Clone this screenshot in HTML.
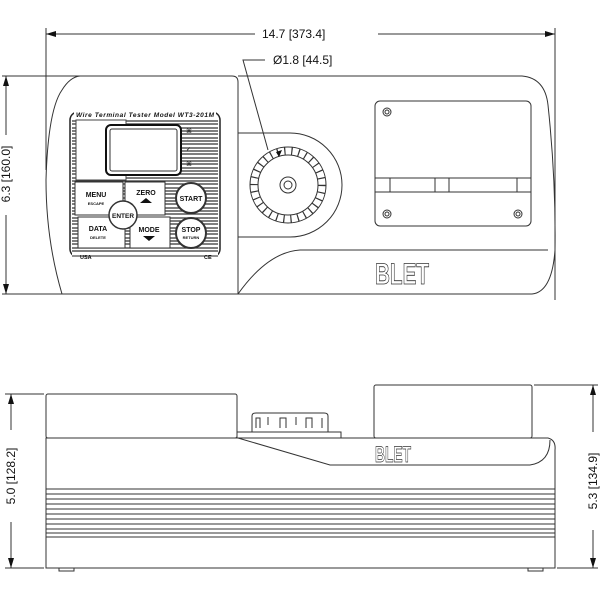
<!DOCTYPE html>
<html><head><meta charset="utf-8"><style>
html,body{margin:0;padding:0;background:#fff}
svg{display:block}
text{font-family:"Liberation Sans",Arial,sans-serif;fill:#111}
</style></head><body>
<svg width="600" height="600" viewBox="0 0 600 600" xmlns="http://www.w3.org/2000/svg">
<defs>
<marker id="ar" markerWidth="10" markerHeight="6" refX="10" refY="3" orient="auto" markerUnits="userSpaceOnUse">
<path d="M0,0 L10,3 L0,6 Z" fill="#111"/></marker>
</defs>
<g fill="none" stroke="#333" stroke-width="1">
<line x1="46" y1="28" x2="46" y2="170"/>
<line x1="555" y1="28" x2="555" y2="300"/>
<line x1="255" y1="34" x2="46" y2="34" marker-end="url(#ar)"/>
<line x1="378" y1="34" x2="555" y2="34" marker-end="url(#ar)"/>
<line x1="2" y1="76" x2="80" y2="76"/>
<line x1="2" y1="294" x2="70" y2="294"/>
<line x1="6" y1="135" x2="6" y2="76" marker-end="url(#ar)"/>
<line x1="6" y1="215" x2="6" y2="294" marker-end="url(#ar)"/>
<polyline points="265,60 243,60 268,150" />
<path d="M80,76 L232,76 Q238,76 238,82 L238,294 L62,294 Q46,240 46,180 Q48,110 62,90 Q70,77 80,76 Z"/>
<path d="M238,76 L522,76 Q545,78 548,105 Q556,180 555,250 Q552,292 532,294 L238,294"/>
<path d="M300,250 L548,250"/>
<path d="M300,250 Q268,252 238,294"/>
<path d="M238,133 L290,133 A52,52 0 0 1 290,237 L238,237"/>
<circle cx="288" cy="185" r="38"/>
<circle cx="288" cy="185" r="34" stroke-width="8" stroke-dasharray="1.2 5.9"/>
<circle cx="288" cy="185" r="30"/>
<circle cx="288" cy="185" r="8"/>
<circle cx="288" cy="185" r="4"/>
<rect x="375" y="101" width="156" height="125" rx="5"/>
<line x1="375" y1="178" x2="531" y2="178"/>
<line x1="375" y1="192" x2="531" y2="192"/>
<line x1="390" y1="178" x2="390" y2="192"/>
<line x1="435" y1="178" x2="435" y2="192"/>
<line x1="449" y1="178" x2="449" y2="192"/>
<line x1="517" y1="178" x2="517" y2="192"/>
<circle cx="387" cy="112" r="4"/><circle cx="387" cy="112" r="2"/>
<circle cx="387" cy="214" r="4"/><circle cx="387" cy="214" r="2"/>
<circle cx="518" cy="214" r="4"/><circle cx="518" cy="214" r="2"/>
</g>
<path d="M276,152 L282,150 L279,157 Z" fill="#111"/>
<g fill="none" stroke="#222">
<rect x="70" y="112" width="150" height="145" rx="8" stroke-width="1.5"/>
</g>
<g stroke="#333" stroke-width="1.2">
<line x1="72" y1="121" x2="218" y2="121"/><line x1="72" y1="124" x2="218" y2="124"/><line x1="72" y1="128" x2="218" y2="128"/><line x1="72" y1="131" x2="218" y2="131"/><line x1="72" y1="134" x2="218" y2="134"/><line x1="72" y1="138" x2="218" y2="138"/><line x1="72" y1="141" x2="218" y2="141"/><line x1="72" y1="144" x2="218" y2="144"/><line x1="72" y1="148" x2="218" y2="148"/><line x1="72" y1="151" x2="218" y2="151"/><line x1="72" y1="154" x2="218" y2="154"/><line x1="72" y1="158" x2="218" y2="158"/><line x1="72" y1="161" x2="218" y2="161"/><line x1="72" y1="164" x2="218" y2="164"/><line x1="72" y1="168" x2="218" y2="168"/><line x1="72" y1="171" x2="218" y2="171"/><line x1="72" y1="174" x2="218" y2="174"/><line x1="72" y1="178" x2="218" y2="178"/><line x1="72" y1="181" x2="218" y2="181"/><line x1="72" y1="184" x2="218" y2="184"/><line x1="72" y1="188" x2="218" y2="188"/><line x1="72" y1="191" x2="218" y2="191"/><line x1="72" y1="194" x2="218" y2="194"/><line x1="72" y1="198" x2="218" y2="198"/><line x1="72" y1="201" x2="218" y2="201"/><line x1="72" y1="204" x2="218" y2="204"/><line x1="72" y1="208" x2="218" y2="208"/><line x1="72" y1="211" x2="218" y2="211"/><line x1="72" y1="214" x2="218" y2="214"/><line x1="72" y1="218" x2="218" y2="218"/><line x1="72" y1="221" x2="218" y2="221"/><line x1="72" y1="224" x2="218" y2="224"/><line x1="72" y1="228" x2="218" y2="228"/><line x1="72" y1="231" x2="218" y2="231"/><line x1="72" y1="234" x2="218" y2="234"/><line x1="72" y1="238" x2="218" y2="238"/><line x1="72" y1="241" x2="218" y2="241"/><line x1="72" y1="244" x2="218" y2="244"/><line x1="72" y1="248" x2="218" y2="248"/><line x1="72" y1="251" x2="218" y2="251"/>
</g>
<rect x="74" y="108" width="142" height="10" fill="#fff"/>
<rect x="72" y="252" width="146" height="8" fill="#fff"/>
<line x1="72" y1="256" x2="218" y2="256" stroke="#222"/>
<text x="145" y="117" font-size="6.5" font-style="italic" font-weight="bold" text-anchor="middle" textLength="138" lengthAdjust="spacing">Wire Terminal Tester   Model WT3-201M</text>
<text x="80" y="259" font-size="5.5" font-weight="bold">USA</text>
<text x="204" y="259" font-size="5.5" font-weight="bold">CE</text>
<rect x="76" y="120" width="50" height="60" fill="#fff" stroke="#444"/>
<rect x="106" y="125" width="75" height="50" rx="5" fill="#fff" stroke="#111" stroke-width="2"/>
<rect x="110" y="129" width="67" height="42" rx="2" fill="none" stroke="#333"/>
<text x="186" y="133" font-size="6">⌘</text><text x="186" y="151" font-size="6">✓</text><text x="186" y="166" font-size="6">⌘</text>
<g fill="#fff" stroke="#333">
<rect x="75" y="182" width="48" height="33"/>
<rect x="125" y="182" width="40" height="33"/>
<rect x="78" y="217" width="47" height="31"/>
<rect x="130" y="217" width="40" height="31"/>
<circle cx="123" cy="215" r="14" stroke-width="1.5"/>
<circle cx="191" cy="198" r="15" stroke-width="2"/>
<circle cx="191" cy="233" r="15" stroke-width="2"/>
</g>
<g font-weight="bold" text-anchor="middle">
<text x="96" y="197" font-size="7">MENU</text><text x="96" y="205" font-size="4">ESCAPE</text>
<text x="146" y="195" font-size="7">ZERO</text>
<text x="98" y="231" font-size="7">DATA</text><text x="98" y="239" font-size="4">DELETE</text>
<text x="149" y="232" font-size="7">MODE</text>
<text x="123" y="218" font-size="6.5">ENTER</text>
<text x="191" y="201" font-size="7">START</text>
<text x="191" y="232" font-size="7">STOP</text><text x="191" y="239" font-size="4">RETURN</text>
</g>
<path d="M140,203 L146,198 L152,203 Z" fill="#111"/>
<path d="M143,236 L149,241 L155,236 Z" fill="#111"/>
<text x="402" y="284" font-size="30" font-weight="bold" text-anchor="middle" style="fill:#fff;stroke:#333;stroke-width:0.8" textLength="54" lengthAdjust="spacingAndGlyphs">BLET</text>
<text x="262" y="38" font-size="12">14.7 [373.4]</text>
<text x="273" y="64" font-size="12">Ø1.8 [44.5]</text>
<text transform="translate(10,174) rotate(-90)" font-size="12" text-anchor="middle">6.3 [160.0]</text>

<g fill="none" stroke="#333" stroke-width="1">
<rect x="46" y="394" width="191" height="44" rx="2"/>
<rect x="374" y="385" width="158" height="53" rx="2"/>
<rect x="237" y="432" width="104" height="6"/>
<path d="M252,432 L252,416 Q252,413 256,413 L324,413 Q328,413 328,416 L328,432"/>
<path d="M256,428 v-10 h4 v10 M268,425 v-8 M280,428 v-10 h6 v10 M296,425 v-8 M306,428 v-10 h6 v10 M322,428 v-10"/>
<path d="M46,438 L548,438 Q556,440 555,450 L555,568 L46,568 Z"/>
<path d="M238,438 L330,465 L530,465 Q550,462 550,440"/>
<line x1="46" y1="489" x2="555" y2="489"/><line x1="46" y1="494" x2="555" y2="494"/>
<line x1="46" y1="499" x2="555" y2="499"/><line x1="46" y1="504" x2="555" y2="504"/>
<line x1="46" y1="509" x2="555" y2="509"/><line x1="46" y1="514" x2="555" y2="514"/>
<line x1="46" y1="519" x2="555" y2="519"/><line x1="46" y1="524" x2="555" y2="524"/>
<line x1="46" y1="529" x2="555" y2="529"/><line x1="46" y1="533" x2="555" y2="533"/>
<line x1="46" y1="537" x2="555" y2="537"/>
<rect x="59" y="568" width="15" height="3"/>
<rect x="528" y="568" width="15" height="3"/>
<line x1="5" y1="394" x2="44" y2="394"/>
<line x1="5" y1="568" x2="44" y2="568"/>
<line x1="11" y1="430" x2="11" y2="394" marker-end="url(#ar)"/>
<line x1="11" y1="522" x2="11" y2="568" marker-end="url(#ar)"/>
<line x1="534" y1="385" x2="598" y2="385"/>
<line x1="557" y1="568" x2="598" y2="568"/>
<line x1="593" y1="432" x2="593" y2="385" marker-end="url(#ar)"/>
<line x1="593" y1="530" x2="593" y2="568" marker-end="url(#ar)"/>
</g>
<text x="393" y="462" font-size="22" font-weight="bold" text-anchor="middle" style="fill:#fff;stroke:#333;stroke-width:0.7" textLength="36" lengthAdjust="spacingAndGlyphs">BLET</text>
<text transform="translate(15,476) rotate(-90)" font-size="12" text-anchor="middle">5.0 [128.2]</text>
<text transform="translate(597,481) rotate(-90)" font-size="12" text-anchor="middle">5.3 [134.9]</text>
</svg>
</body></html>
